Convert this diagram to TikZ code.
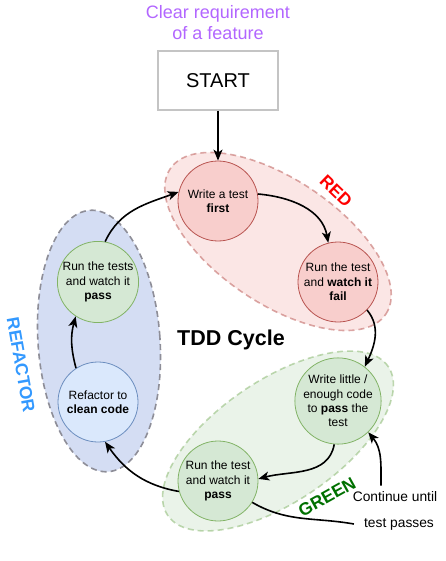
\documentclass[tikz,border=0pt]{standalone}
\usepackage{fontspec}
\setmainfont{Liberation Sans}
\usetikzlibrary{arrows.meta}
\definecolor{redfill}{HTML}{F8CECC}
\definecolor{redline}{HTML}{B85450}
\definecolor{greenfill}{HTML}{D5E8D4}
\definecolor{greenline}{HTML}{82B366}
\definecolor{bluefill}{HTML}{DAE8FC}
\definecolor{blueline}{HTML}{6C8EBF}
\definecolor{lavender}{HTML}{D4DDF3}
\definecolor{grayline}{HTML}{8E8E98}
\definecolor{startline}{HTML}{C4C4C4}
\definecolor{titlecol}{HTML}{B266FF}
\definecolor{refcol}{HTML}{3399FF}
\definecolor{greentext}{HTML}{007000}
\begin{document}
\begin{tikzpicture}[x=1pt,y=1pt,
  circ/.style={circle, minimum size=80pt, inner sep=0pt, align=center,
    font=\fontsize{12}{14.3}\selectfont, line width=0.8pt},
  redc/.style={circ, fill=redfill, draw=redline},
  greenc/.style={circ, fill=greenfill, draw=greenline},
  bluec/.style={circ, fill=bluefill, draw=blueline},
  group/.style={line width=1.6pt, dash pattern=on 6pt off 4pt},
  conn/.style={line width=1.6pt, -{Stealth[length=11pt,width=9pt,inset=3pt]}},
  plain/.style={line width=1.6pt},
  phase/.style={font=\fontsize{17.5}{20}\selectfont\bfseries, inner sep=0pt}
]
\useasboundingbox (0,0) rectangle (446,-561);

% group ellipses
\draw[group, fill=lavender, draw=grayline] (99,-341) ellipse[x radius=61, y radius=131, rotate=4];
\draw[group, fill=redfill, fill opacity=0.5, draw=redline, draw opacity=0.5] (278,-241.5) ellipse[x radius=130, y radius=62, rotate=-34];
\draw[group, fill=greenfill, fill opacity=0.5, draw=greenline, draw opacity=0.5] (278,-441) ellipse[x radius=133, y radius=61, rotate=34];

% title and start
\node (title) at (218,-22.5) [align=center, text=titlecol, font=\fontsize{18}{21}\selectfont] {Clear requirement\\of a feature};
\node (start) at (218,-80.5) [draw=startline, line width=1.6pt, fill=white, minimum width=120pt, minimum height=59pt, font=\fontsize{20}{24}\selectfont] {START};

% circles
\node (c1) at (218,-201) [redc] {Write a test\\\textbf{first}};
\node (c2) at (338,-282) [redc] {Run the test\\and \textbf{watch it}\\\textbf{fail}};
\node (c3) at (338,-401) [greenc] {Write little /\\enough code\\to \textbf{pass} the\\test};
\node (c4) at (218,-481) [greenc] {Run the test\\and watch it\\\textbf{pass}};
\node (c5) at (98,-282) [greenc] {Run the tests\\and watch it\\\textbf{pass}};
\node (c6) at (98,-402) [bluec] {Refactor to\\\textbf{clean code}};

% labels
\node (tdd) at (231,-340) [font=\fontsize{21.5}{24}\selectfont\bfseries] {TDD Cycle};
\node (red) at (336,-191) [phase, text=red, rotate=-44] {RED};
\node (green) at (327,-497) [phase, text=greentext, rotate=29] {GREEN};
\node (refactor) at (21,-365) [phase, text=refcol, rotate=-80] {REFACTOR};
\node (contA) at (395,-497) [font=\fontsize{13.8}{16}\selectfont, inner sep=2pt] {Continue until};
\node (contB) at (399,-524) [font=\fontsize{13.8}{16}\selectfont, inner sep=2pt] {test passes};

% connectors
\draw[conn] (start.south) -- (c1.north);
\draw[conn] (c1.10) to[out=-5, in=100] (c2.104);
\draw[conn] (c2.-44) to[out=-50, in=65] (c3.52);
\draw[conn] (c3.-95) to[out=-100, in=15] (c4.3);
\draw[conn] (c4.195) to[out=170, in=-55] (c6.-80);
\draw[conn] (c6.123) to[out=105, in=-105] (c5.-123);
\draw[conn] (c5.80) to[out=65, in=200] (c1.167);
\draw[plain] (c4.-32) to[out=-30, in=170] ([xshift=-8pt]contB.west);
\draw[conn] ([xshift=-14pt,yshift=4pt]contA.north) to[out=90, in=-50] (c3.-46);
\end{tikzpicture}
\end{document}
